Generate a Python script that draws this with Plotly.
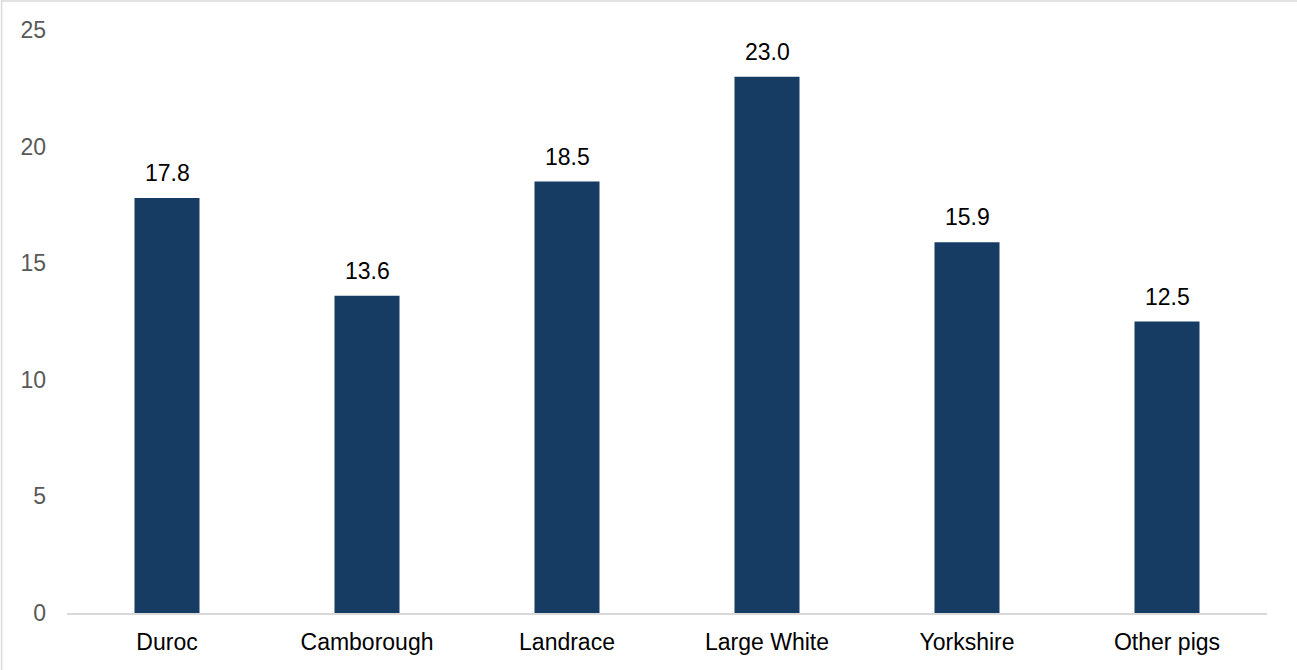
import plotly.graph_objects as go

categories = ["Duroc", "Camborough", "Landrace", "Large White", "Yorkshire", "Other pigs"]
values = [17.8, 13.6, 18.5, 23.0, 15.9, 12.5]
y_ticks = [0, 5, 10, 15, 20, 25]

bar_color = "#173c63"
font_family = "Liberation Sans, Arial, sans-serif"
fsize = 23

fig = go.Figure()
fig.add_trace(go.Bar(
    x=categories, y=values, width=0.325,
    marker=dict(color=bar_color, line=dict(width=0)),
    hoverinfo="x+y",
))

for c, v in zip(categories, values):
    fig.add_annotation(x=c, y=v, text=f"{v:.1f}", showarrow=False,
                       yanchor="bottom", yshift=10,
                       font=dict(family=font_family, size=fsize, color="#000000"))

# outer light border
fig.add_shape(type="rect", xref="paper", yref="paper",
              x0=-0.0545, x1=1.5, y0=-0.5, y1=1.0497,
              line=dict(color="#d9d9d9", width=1.5), fillcolor="rgba(0,0,0,0)", layer="below")

fig.update_layout(
    width=1297, height=670,
    margin=dict(l=67, r=30, t=30, b=57),
    paper_bgcolor="white", plot_bgcolor="white",
    showlegend=False,
    font=dict(family=font_family),
    bargap=0.675,
    xaxis=dict(
        showline=True, linecolor="#d9d9d9", linewidth=1.5,
        showgrid=False, zeroline=False, ticks="",
        tickfont=dict(family=font_family, size=fsize, color="#000000"),
        ticklabelstandoff=8,
        fixedrange=True,
    ),
    yaxis=dict(
        range=[0, 25], tickvals=y_ticks, showgrid=False, zeroline=False,
        showline=False, ticks="",
        tickfont=dict(family=font_family, size=fsize, color="#595959"),
        ticklabelstandoff=20,
        fixedrange=True,
    ),
)

fig.write_html("out.html", config={"displayModeBar": False},
               post_script="document.body.style.margin='0px';document.body.style.overflow='hidden';")
